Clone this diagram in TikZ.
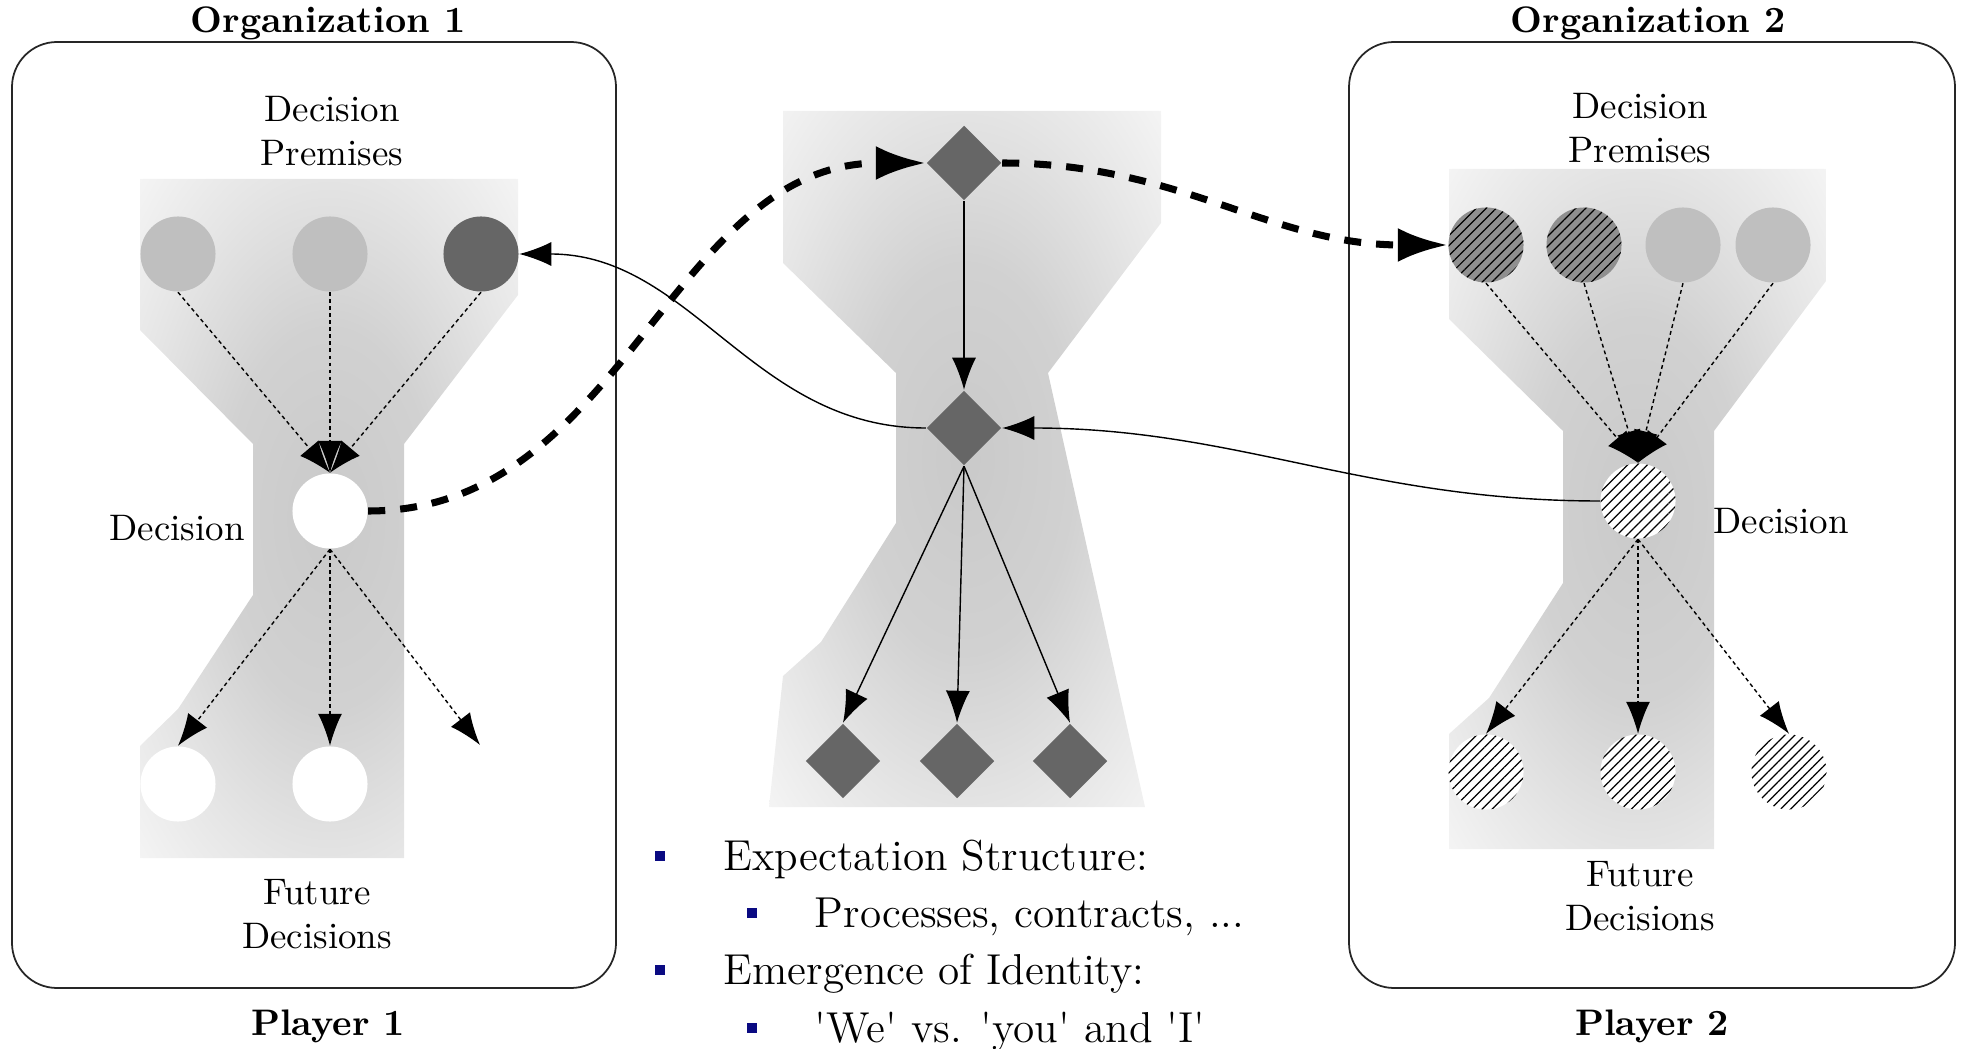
\documentclass[tikz,border=0pt]{standalone}
\usepackage{fontspec}
\usetikzlibrary{arrows.meta,shapes.geometric,patterns.meta}
\definecolor{itemblue}{RGB}{10,10,130}
\pgfdeclareradialshading{funnel}{\pgfpoint{0bp}{0bp}}{color(0bp)=(black!21); color(14bp)=(black!18); color(26bp)=(black!10); color(36bp)=(black!4); color(50bp)=(black!2)}
\tikzset{
    lbl/.style={font=\fontsize{10.5}{12.5}\selectfont, align=center, inner sep=0pt},
    ttl/.style={font=\fontsize{10.5}{12.5}\selectfont\bfseries, inner sep=0pt, anchor=base},
    ball/.style={circle, minimum size=0.75cm, inner sep=0pt},
    gem/.style={diamond, minimum size=0.75cm, inner sep=0pt, fill=black!60},
    hatch/.style={postaction={pattern={Lines[angle=45,distance=2pt,line width=0.35pt]}}},
    guess/.style={-{Latex[length=0.32cm,width=0.24cm]}, line width=0.4pt, dash pattern=on 1.1pt off 0.9pt},
    link/.style={-{Latex[length=0.32cm,width=0.24cm]}, line width=0.4pt},
    transfer/.style={-{Latex[length=0.5cm,width=0.34cm]}, line width=2pt, dash pattern=on 0.17cm off 0.15cm},
    frame/.style={draw=black!85, line width=0.5pt, rounded corners=0.45cm},
    bulletmark/.style={fill=itemblue, minimum size=0.1cm, inner sep=0pt},
    bullettext/.style={font=\fontsize{12.3}{14}\selectfont, anchor=base west, inner sep=0pt}
}
\begin{document}
\begin{tikzpicture}[x=0.01cm, y=0.01cm]
        \useasboundingbox (0,0) rectangle (1961,1048);
        \shade[shading=funnel] (140,869) -- (518,869) -- (518,753) -- (404,604) -- (404,190) -- (140,190) -- (140,302) -- (178,339) -- (253,453) -- (253,604) -- (140,718) -- cycle;
        \shade[shading=funnel] (783,937) -- (1161,937) -- (1161,825) -- (1048,675) -- (1145,241) -- (769,241) -- (783,372) -- (821,406) -- (896,525) -- (896,675) -- (783,785) -- cycle;
        \shade[shading=funnel] (1449,879) -- (1826,879) -- (1826,767) -- (1714,617) -- (1714,199) -- (1449,199) -- (1449,314) -- (1489,350) -- (1563,465) -- (1563,617) -- (1449,729) -- cycle;
        \draw[frame] (12,60) rectangle (616,1006);
        \draw[frame] (1349,60) rectangle (1955,1006);
        \node[ttl] (org1) at (328,1015) {Organization 1};
        \node[ttl] (org2) at (1648,1015) {Organization 2};
        \node[ttl] (pl1) at (328,13) {Player 1};
        \node[ttl] (pl2) at (1652,13) {Player 2};
        \node[lbl] (dp1) at (332,917) {Decision\\Premises};
        \node[lbl] (dp2) at (1640,920) {Decision\\Premises};
        \node[lbl] (dl1) at (177,520) {Decision};
        \node[lbl] (dl2) at (1781,527) {Decision};
        \node[lbl] (fd1) at (317,134) {Future\\Decisions};
        \node[lbl] (fd2) at (1640,152) {Future\\Decisions};
        \foreach \n/\x/\c in {11/178/black!25, 12/330/black!25, 13/481/black!60} {
            \node[ball, fill=\c] (p\n) at (\x,794) {};
        }
        \node[ball, fill=black!44, hatch] (p21) at (1486,803) {};
        \node[ball, fill=black!44, hatch] (p22) at (1584,803) {};
        \node[ball, fill=black!25] (p23) at (1683,803) {};
        \node[ball, fill=black!25] (p24) at (1773,803) {};
        \node[ball, fill=white] (d1) at (330,537) {};
        \node[ball, fill=white, hatch] (d2) at (1638,547) {};
        \node[ball, fill=white] (f11) at (178,264) {};
        \node[ball, fill=white] (f12) at (330,264) {};
        \coordinate (f13) at (480,303);
        \node[ball, fill=white, hatch] (f21) at (1486,276) {};
        \node[ball, fill=white, hatch] (f22) at (1638,276) {};
        \node[ball, hatch] (f23) at (1789,276) {};
        \node[gem] (e0) at (964,885) {};
        \node[gem] (e1) at (964,620) {};
        \foreach \n/\x in {1/843, 2/957, 3/1070} {
            \node[gem] (e2\n) at (\x,287) {};
        }
        \foreach \n in {11,12,13} {
            \draw[guess] (p\n.south) -- (d1.north);
        }
        \foreach \n in {21,22,23,24} {
            \draw[guess] (p\n.south) -- (d2.north);
        }
        \foreach \n in {11,12} {
            \draw[guess] (d1.south) -- (f\n.north);
        }
        \draw[guess] (d1.south) -- (f13);
        \foreach \n in {21,22,23} {
            \draw[guess] (d2.south) -- (f\n.north);
        }
        \draw[link] (e0) -- (e1);
        \foreach \n in {1,2,3} {
            \draw[link] (e1.south) -- (e2\n.north);
        }
        \draw[link] (e1.west) to[out=180, in=0] (p13.east);
        \draw[link] (d2.west) to[out=180, in=0] (e1.east);
        \draw[transfer] (d1.east) to[out=0, in=180] (e0.west);
        \draw[transfer] (e0.east) to[out=0, in=180] (p21.west);
        \node[bulletmark] (b1) at (660,192) {};
        \node[bullettext] (t1) at (723,178) {Expectation Structure:};
        \node[bulletmark] (b2) at (752,135) {};
        \node[bullettext] (t2) at (814,121) {Processes, contracts, ...};
        \node[bulletmark] (b3) at (660,78) {};
        \node[bullettext] (t3) at (723,64) {Emergence of Identity:};
        \node[bulletmark] (b4) at (752,20) {};
        \node[bullettext] (t4) at (814,6) {\textquotesingle We\textquotesingle{} vs. \textquotesingle you\textquotesingle{} and \textquotesingle I\textquotesingle};
    \end{tikzpicture}
\end{document}
